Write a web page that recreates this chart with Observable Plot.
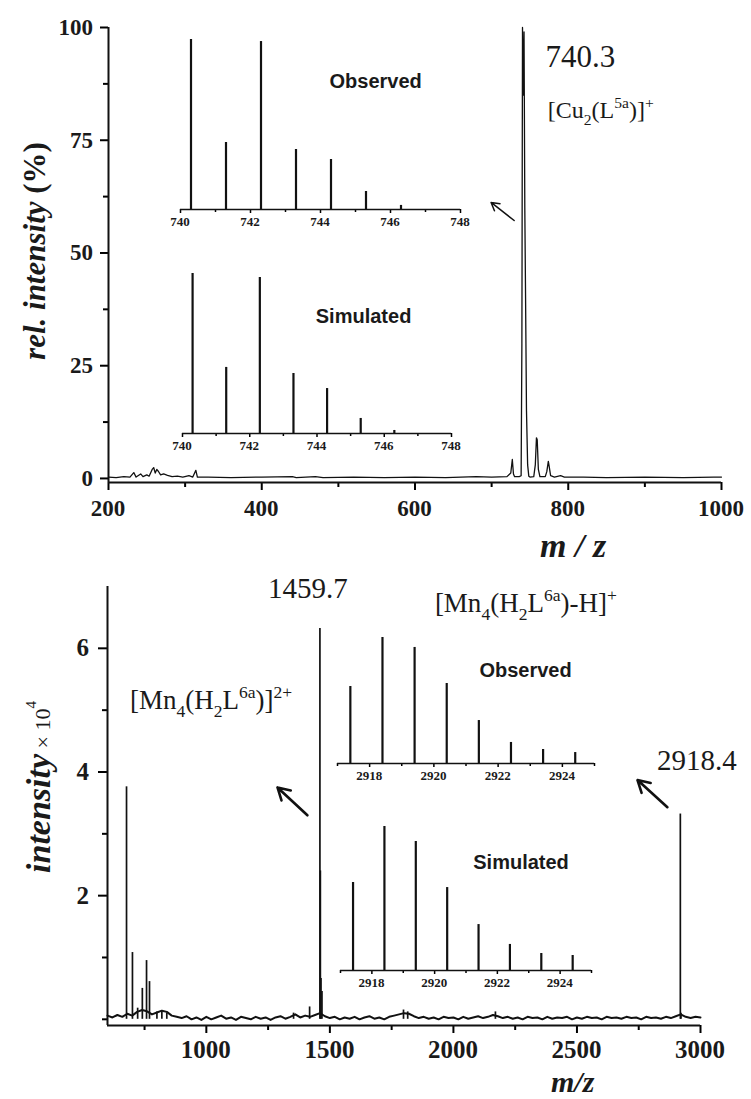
<!DOCTYPE html>
<html><head><meta charset="utf-8">
<script src="https://cdn.jsdelivr.net/npm/d3@7"></script>
<script src="https://cdn.jsdelivr.net/npm/@observablehq/plot@0.6"></script>
<style>
body{margin:0;background:#fff}
#wrap{position:relative;width:751px;height:1099px;overflow:hidden;background:#fff}
.pane{position:absolute}
</style>
</head><body><div id="wrap"></div>
<script>
// ================= DATA =================
// Top panel: ESI-MS of [Cu2(L5a)]+  (m/z, rel. intensity %)
const cuSpecMz  = [200,210,220,228,233,236,242,245,250,253,257,259,261,263,265,268,272,277,283,290,297,305,310,314,316,330,360,400,440,445,470,480,520,560,600,640,680,700,720,725,727,728.5,730,736,738.5,739.5,740.3,741.3,742.3,743.3,744.3,745.5,747,748.5,750,755,757,758.5,759.5,761,763,770,772,774,775,777,782,790,795,820,850,900,950,990,1000];
const cuSpecInt = [0.3,0.2,0.4,0.3,1.3,0.3,1.0,0.4,0.8,0.5,2.0,2.4,1.2,2.0,1.6,0.8,1.0,0.7,0.4,0.5,0.3,0.6,0.3,1.8,0.3,0.3,0.2,0.3,0.4,0.2,0.4,0.2,0.3,0.2,0.3,0.2,0.4,0.3,0.4,1.2,4.2,1.0,0.4,0.4,0.6,30,100,85,99,60,40,15,3,0.5,0.3,0.4,3,9,8.6,2,0.4,0.4,1.5,3.8,2.8,0.6,0.3,0.6,0.3,0.3,0.2,0.3,0.2,0.3,0.3];
const cuYTicks = [0,25,50,75,100];
const cuYMinor = [12.5,37.5,62.5,87.5];
const cuXTicks = [200,400,600,800,1000];
const cuXMinor = [300,500,700,900];
// isotope pattern insets (normalised %)
const cuIsoMz = [740.3,741.3,742.3,743.3,744.3,745.3,746.3];
const cuObs   = [100,39.4,98.8,35.3,29.4,10.6,2.4];
const cuSim   = [100,41.3,97.5,37.5,28.1,9.4,1.9];
const cuInsetTicks = [740,742,744,746,748];
const cuInsetMinor = [741,743,745,747];

// Bottom panel: [Mn4(H2L6a)] species (m/z, intensity x 1e4)
const mnPeakMz  = [677,701,722,741,758,770,800,820,840,1353,1418,1459.7,1461.5,1464,1468,1798,1815,2170,2918.4,2921];
const mnPeakInt = [3.76,1.08,0.18,0.50,0.95,0.61,0.12,0.13,0.10,0.10,0.20,6.32,2.40,0.66,0.45,0.15,0.12,0.12,3.32,0.10];
const mnBaseStart = 600, mnBaseStep = 20;
const mnBaseline = [0.06,0.03,0.07,0.04,0.09,0.06,0.12,0.15,0.13,0.08,0.11,0.14,0.12,0.06,0.04,0.02,0.05,0.00,0.03,-0.01,
  0.04,0.00,0.03,0.06,0.01,0.03,-0.01,0.04,0.02,0.00,0.04,0.01,0.03,-0.01,0.03,0.05,0.01,0.04,0.08,0.03,
  0.06,0.04,0.07,0.10,0.05,0.02,0.04,0.00,0.03,0.01,0.04,0.00,0.03,0.05,0.01,0.03,0.00,0.04,0.06,0.08,
  0.10,0.09,0.05,0.02,0.04,0.01,0.03,0.00,0.04,0.02,0.03,0.00,0.04,0.01,0.03,0.05,0.02,0.04,0.07,0.05,
  0.02,0.04,0.01,0.03,0.00,0.04,0.02,0.03,0.00,0.04,0.01,0.03,0.02,0.04,0.00,0.03,0.01,0.04,0.02,0.03,
  0.00,0.04,0.02,0.03,0.01,0.04,0.02,0.03,0.00,0.04,0.02,0.03,0.01,0.04,0.02,0.05,0.08,0.04,0.02,0.04,0.03];
const mnYTicks = [2,4,6];
const mnYMinor = [0,1,3,5];
const mnXTicks = [1000,1500,2000,2500,3000];
const mnXMinor = [750,1250,1750,2250,2750];
const mnIsoMz = [2917.4,2918.4,2919.4,2920.4,2921.4,2922.4,2923.4,2924.4];
const mnObs   = [61.1,100,92.1,63.5,34.1,16.7,11.1,8.7];
const mnSim   = [61.1,100,89.6,57.6,31.9,18.1,11.8,10.4];
const mnInsetTicks = [2918,2920,2922,2924];
const mnInsetMinor = [2917,2919,2921,2923,2925];

// annotations (data coordinates)
const cuNotes = [
  {x:771, y:91.1, size:31, parts:[{t:"740.3"}]},
  {x:774, y:79.8, size:24, parts:[{t:"[Cu"},{t:"2",s:"sub"},{t:"(L"},{t:"5a",s:"sup"},{t:")]"},{t:"+",s:"sup"}]}
];
const cuArrows = [{x1:729.4, y1:57.2, x2:699.3, y2:61.2}];
const mnNotes = [
  {x:1252, y:6.81, size:29, parts:[{t:"1459.7"}]},
  {x:693,  y:5.01, size:27, parts:[{t:"[Mn"},{t:"4",s:"sub"},{t:"(H"},{t:"2",s:"sub"},{t:"L"},{t:"6a",s:"sup"},{t:")]"},{t:"2+",s:"sup"}]},
  {x:1927, y:6.58, size:27, parts:[{t:"[Mn"},{t:"4",s:"sub"},{t:"(H"},{t:"2",s:"sub"},{t:"L"},{t:"6a",s:"sup"},{t:")-H]"},{t:"+",s:"sup"}]},
  {x:2826, y:4.03, size:29, parts:[{t:"2918.4"}]}
];
const mnArrows = [
  {x1:1409, y1:3.30, x2:1288, y2:3.75},
  {x1:2866, y1:3.43, x2:2745, y2:3.87}
];

// ================= BUILD =================
const SERIF = "'Liberation Serif', 'Times New Roman', serif";
const SANS = "'Liberation Sans', Arial, sans-serif";
const INK = "#111";
const wrap = document.getElementById("wrap");
const noText = () => "";

const cuSpec = cuSpecMz.map((mz,i)=>({mz, v:cuSpecInt[i]}));
const mnBase = mnBaseline.map((v,i)=>({mz: mnBaseStart + i*mnBaseStep, v}));
const mnPeaks = mnPeakMz.map((mz,i)=>({mz, v:mnPeakInt[i]}));

function place(node, left, topPx){
  const d = document.createElement("div");
  d.className = "pane"; d.style.left = left+"px"; d.style.top = topPx+"px";
  d.appendChild(node); wrap.appendChild(d);
  return node;
}

function rich(g, x, y, parts, size, opts={}){
  const t = g.append("text").attr("x",x).attr("y",y)
    .style("font-family",opts.family||SERIF).style("font-size",size+"px")
    .style("font-weight",opts.weight||"normal").attr("fill","#1a1a1a")
    .attr("text-anchor",opts.anchor||"start");
  if (opts.baseline) t.attr("dominant-baseline", opts.baseline);
  if (opts.transform) t.attr("transform",opts.transform);
  let shift = 0;
  for (const p of parts){
    const target = p.s==="sub" ? 0.28*size : p.s==="sup" ? -0.42*size : 0;
    const ts = t.append("tspan").attr("dy", target-shift).text(p.t);
    if (p.s) ts.style("font-size", (p.k||0.65)*size+"px");
    if (p.size) ts.style("font-size", p.size+"px");
    if (p.style) ts.style("font-style", p.style);
    if (p.weight) ts.style("font-weight", p.weight);
    shift = target;
  }
  return t;
}

// tick labels placed through the plot's own scales
function tickLabels(plot, {xTicks=[], xBase, yTicks=[], yRight, yShift, size}){
  const g = d3.select(plot).append("g");
  const sx = plot.scale("x"), sy = plot.scale("y");
  for (const t of xTicks) rich(g, sx.apply(t), xBase, [{t:String(t)}], size, {weight:"bold", anchor:"middle"});
  for (const t of yTicks) rich(g, yRight, sy.apply(t)+yShift, [{t:String(t)}], size, {weight:"bold", anchor:"end"});
}

const plotStyle = {background:"transparent", overflow:"visible"};

// ---------- top main ----------
const topPlot = Plot.plot({
  width:751, height:560, marginTop:27, marginRight:30, marginBottom:78, marginLeft:108,
  x:{domain:[200,1000]}, y:{domain:[-0.9,100]},
  style: plotStyle,
  marks:[
    Plot.axisY({ticks:cuYTicks, tickSize:8, tickFormat:noText, label:null, strokeWidth:2}),
    Plot.axisY({ticks:cuYMinor, tickSize:5, tickFormat:noText, label:null, strokeWidth:2}),
    Plot.axisX({ticks:cuXTicks, tickSize:8, tickFormat:noText, label:null, strokeWidth:2}),
    Plot.axisX({ticks:cuXMinor, tickSize:5, tickFormat:noText, label:null, strokeWidth:2}),
    Plot.ruleX([200], {y1:-0.9, y2:100, strokeWidth:2, stroke:INK}),
    Plot.ruleY([-0.9], {strokeWidth:2, stroke:INK}),
    Plot.line(cuSpec, {x:"mz", y:"v", stroke:INK, strokeWidth:1.3}),
    Plot.arrow(cuArrows, {x1:"x1", y1:"y1", x2:"x2", y2:"y2", stroke:INK, strokeWidth:1.5, headLength:9})
  ]
});
place(topPlot, 0, 0);
tickLabels(topPlot, {xTicks:cuXTicks, xBase:516, yTicks:cuYTicks, yRight:93, yShift:8, size:23});
{
  const g = d3.select(topPlot).append("g");
  const sx = topPlot.scale("x"), sy = topPlot.scale("y");
  for (const n of cuNotes) rich(g, sx.apply(n.x), sy.apply(n.y), n.parts, n.size);
  rich(g, 45, 251, [{t:"rel. intensity ", style:"italic"},{t:"(%)"}], 31, {weight:"bold", anchor:"middle", transform:"rotate(-90,45,251)"});
  rich(g, 540, 557, [{t:"m / z", style:"italic"}], 34, {weight:"bold"});
}

// ---------- insets ----------
function inset({mz, vals, domain, ticks, minor, label, lx, ly, w, h, m, left, topPx}){
  const data = mz.map((x,i)=>({mz:x, v:vals[i]}));
  const p = Plot.plot({
    width:w, height:h, marginTop:m[0], marginRight:m[1], marginBottom:m[2], marginLeft:m[3],
    x:{domain}, y:{domain:[0,100], axis:null},
    style: plotStyle,
    marks:[
      Plot.axisX({ticks, tickSize:4, tickFormat:noText, label:null, strokeWidth:1.5}),
      Plot.axisX({ticks:minor, tickSize:3, tickFormat:noText, label:null, strokeWidth:1.5}),
      Plot.ruleY([0], {stroke:INK, strokeWidth:1.6}),
      Plot.ruleX(data, {x:"mz", y1:0, y2:"v", stroke:INK, strokeWidth:2.2})
    ]
  });
  place(p, left, topPx);
  tickLabels(p, {xTicks:ticks, xBase:h - m[2] + 17, size:13});
  const g = d3.select(p).append("g");
  rich(g, p.scale("x").apply(lx), p.scale("y").apply(ly), [{t:label}], 20,
       {family:SANS, weight:"bold", anchor:"middle", baseline:"central"});
  return p;
}
inset({mz:cuIsoMz, vals:cuObs, domain:[740,748], ticks:cuInsetTicks, minor:cuInsetMinor, label:"Observed", lx:745.59, ly:75.3, w:330, h:210, m:[9,20,31,30], left:150, topPx:30});
inset({mz:cuIsoMz, vals:cuSim, domain:[740,748], ticks:cuInsetTicks, minor:cuInsetMinor, label:"Simulated", lx:745.4, ly:73.1, w:320, h:210, m:[23,19,27,32], left:150, topPx:250});

// ---------- bottom main ----------
const botPlot = Plot.plot({
  width:751, height:539, marginTop:26, marginRight:51, marginBottom:74, marginLeft:107,
  x:{domain:[600,3000]}, y:{domain:[-0.1,7]},
  style: plotStyle,
  marks:[
    Plot.axisY({ticks:mnYTicks, tickSize:9, tickFormat:noText, label:null, strokeWidth:2}),
    Plot.axisY({ticks:mnYMinor, tickSize:5, tickFormat:noText, label:null, strokeWidth:2}),
    Plot.axisX({ticks:mnXTicks, tickSize:8, tickFormat:noText, label:null, strokeWidth:2}),
    Plot.axisX({ticks:mnXMinor, tickSize:5, tickFormat:noText, label:null, strokeWidth:2}),
    Plot.ruleX([600], {y1:-0.1, y2:7, strokeWidth:2, stroke:INK}),
    Plot.ruleY([-0.1], {strokeWidth:2, stroke:INK}),
    Plot.line(mnBase, {x:"mz", y:"v", stroke:INK, strokeWidth:2}),
    Plot.ruleX(mnPeaks, {x:"mz", y1:0, y2:"v", stroke:INK, strokeWidth:1.7}),
    Plot.arrow(mnArrows, {x1:"x1", y1:"y1", x2:"x2", y2:"y2", stroke:INK, strokeWidth:2.6, headLength:12})
  ]
});
place(botPlot, 0, 560);
tickLabels(botPlot, {xTicks:mnXTicks, xBase:498, yTicks:mnYTicks, yRight:89, yShift:8.5, size:25});
{
  const g = d3.select(botPlot).append("g");
  const sx = botPlot.scale("x"), sy = botPlot.scale("y");
  for (const n of mnNotes) rich(g, sx.apply(n.x), sy.apply(n.y), n.parts, n.size);
  rich(g, 50, 227, [{t:"intensity", style:"italic", weight:"bold"},{t:" × 10", size:22},{t:"4", s:"sup", size:15}], 34, {anchor:"middle", transform:"rotate(-90,50,227)"});
  rich(g, 551, 532, [{t:"m/z", style:"italic"}], 30, {weight:"bold"});
}
inset({mz:mnIsoMz, vals:mnObs, domain:[2917,2925], ticks:mnInsetTicks, minor:mnInsetMinor, label:"Observed", lx:2922.87, ly:73.8, w:310, h:190, m:[37,16,27,37], left:300, topPx:600});
inset({mz:mnIsoMz, vals:mnSim, domain:[2917,2925], ticks:mnInsetTicks, minor:mnInsetMinor, label:"Simulated", lx:2922.77, ly:75, w:310, h:195, m:[26,19,25,40], left:300, topPx:800});
</script>
</body></html>
